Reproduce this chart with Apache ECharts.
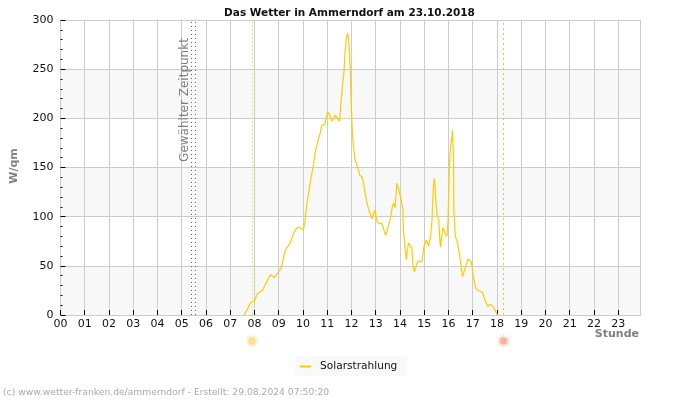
<!DOCTYPE html>
<html><head><meta charset="utf-8">
<script src="https://cdn.jsdelivr.net/npm/echarts@6/dist/echarts.min.js"></script>
<style>html,body{margin:0;padding:0;background:#fff}#c{width:700px;height:400px}</style>
</head><body><div id="c"></div>
<script>
const hourLabels=['00','01','02','03','04','05','06','07','08','09','10','11','12','13','14','15','16','17','18','19','20','21','22','23'];
const hours=[7.57,7.69,7.77,7.82,7.91,8.02,8.10,8.16,8.32,8.44,8.65,8.81,8.99,9.10,9.20,9.27,9.47,9.61,9.68,9.81,10.02,10.09,10.13,10.23,10.33,10.41,10.50,10.60,10.74,10.78,10.90,11.01,11.12,11.19,11.26,11.34,11.42,11.51,11.56,11.63,11.69,11.73,11.78,11.84,11.89,11.92,11.96,11.98,12.02,12.04,12.10,12.15,12.22,12.29,12.33,12.43,12.50,12.56,12.63,12.70,12.80,12.84,12.91,12.98,13.02,13.07,13.25,13.32,13.40,13.46,13.53,13.60,13.69,13.73,13.80,13.87,13.94,14.04,14.12,14.14,14.20,14.26,14.35,14.49,14.54,14.60,14.70,14.76,14.90,14.99,15.09,15.18,15.27,15.32,15.38,15.42,15.48,15.53,15.60,15.65,15.67,15.77,15.86,15.93,15.98,16.03,16.08,16.14,16.16,16.21,16.22,16.28,16.36,16.44,16.51,16.58,16.69,16.80,16.94,16.99,17.05,17.13,17.24,17.40,17.51,17.62,17.73,17.86,18.02];
const solar=[0,5,6,12,14,15,21,23,25,30.5,41,38,44,47.5,59,66,73,83,86.5,89.5,87,96.5,107,124,139,149.5,165,175,188,193,194,206.5,202.5,197,197,203,201,197,213.6,234,247.5,264.5,280,286.5,278,264,244,218.7,196.6,183,168,157.7,152.6,147.5,142.4,140.7,134,124,115,108.5,100.7,97.7,103.5,107,99,94,93,88,81,84.7,91.5,98,111,113.6,109,134,128,118.7,107,86.5,71,56,73.5,68,49,44,52.5,55,54,69.5,76,70,81,96.5,130.5,139,117,101.7,96.5,74.6,69,89,83.5,80,93.6,146,169.5,181,188,161,109,80,74.6,64,52.5,39,47.5,57,54,46,35.6,27,24.7,23,15,9,11,8,0];
const selectedTimes=[5.38,5.57];
const sunrise=7.9, sunset=18.27;
const sunIconY=-26.5;

const font='"DejaVu Sans"';
const rays=(()=>{let d='';const n=12;for(let i=0;i<n*2;i++){const a=i*Math.PI/n;const r=i%2?45:100;d+=(i?'L':'M')+(100+r*Math.cos(a)).toFixed(1)+' '+(100+r*Math.sin(a)).toFixed(1);}return 'path://'+d+'Z';})();
const sunSeries=(t,ray,core)=>[
 {type:'scatter',silent:true,clip:false,symbol:rays,symbolSize:16,z:5,itemStyle:{color:ray,opacity:1},data:[[t,sunIconY]]},
 {type:'scatter',silent:true,clip:false,symbol:'circle',symbolSize:7,z:6,itemStyle:{color:core,opacity:1},data:[[t,sunIconY]]}
];
const vline=(x,color,type)=>({xAxis:x,lineStyle:{color,type,width:1}});
const chart=echarts.init(document.getElementById('c'),null,{renderer:'canvas'});
chart.setOption({
 animation:false,
 backgroundColor:'#fff',
 title:{text:'Das Wetter in Ammerndorf am 23.10.2018',left:344.5,textAlign:'center',top:3,textStyle:{fontFamily:font,fontSize:10.5,fontWeight:'bold',color:'#111'}},
 grid:{left:60.5,top:20,width:580,height:295,show:false},
 legend:{data:['Solarstrahlung'],left:295,top:356,padding:[5,10,4,5],itemWidth:11,itemHeight:2,backgroundColor:'#f9f9f9',icon:'rect',
   textStyle:{fontFamily:font,fontSize:10.6,color:'#111',padding:[0,0,0,4]}},
 xAxis:{type:'value',min:0,max:23.92,interval:1,
   axisLine:{show:true,lineStyle:{color:'#ccc',width:1}},
   axisTick:{show:true,inside:true,length:5,lineStyle:{color:'#000'}},
   axisLabel:{fontFamily:font,fontSize:11,color:'#111',margin:4,showMaxLabel:false,formatter:v=>hourLabels[v]},
   splitLine:{show:true,lineStyle:{color:'#ccc',width:1}}},
 yAxis:{type:'value',min:0,max:300,interval:50,
   axisLine:{show:true,lineStyle:{color:'#ccc',width:1}},
   axisTick:{show:true,inside:true,length:5,lineStyle:{color:'#000'}},
   minorTick:{show:true,splitNumber:5,length:2,lineStyle:{color:'#000'}},
   axisLabel:{fontFamily:font,fontSize:11,color:'#111',margin:7},
   splitLine:{show:true,lineStyle:{color:'#ccc',width:1}},
   splitArea:{show:true,areaStyle:{color:['#f8f8f8','#ffffff']}}},
 series:[
  {name:'Solarstrahlung',type:'line',showSymbol:false,symbol:'none',smooth:false,z:3,
   lineStyle:{color:'#ffcc00',width:1.2},itemStyle:{color:'#ffcc00'},
   data:hours.map((h,i)=>[h,solar[i]]),
   markLine:{silent:true,symbol:'none',label:{show:false},animation:false,data:[
     vline(selectedTimes[0],'#666',[1,3]),vline(selectedTimes[1],'#666',[1,3]),
     vline(sunrise,'#ffe95a',[2,2]),vline(sunset,'#f9b56a',[2,3])]}},
  ...sunSeries(sunrise,'#fbeab8','#fbdf8c'),
  ...sunSeries(sunset,'#ffd4c8','#ffb09c')
 ],
 graphic:[
  {type:'text',left:3,top:388,style:{text:'(c) www.wetter-franken.de/ammerndorf - Erstellt: 29.08.2024 07:50:20',fontFamily:font,fontSize:9.2,fill:'#aaa'},silent:true},
  {type:'text',x:14,y:166,rotation:Math.PI/2,style:{text:'W/qm',fontFamily:font,fontSize:11,fontWeight:'bold',fill:'#808080',align:'center',verticalAlign:'middle'},silent:true},
  {type:'text',x:639,y:334,style:{text:'Stunde',fontFamily:font,fontSize:11,fontWeight:'bold',fill:'#808080',align:'right',verticalAlign:'middle'},silent:true},
  {type:'text',x:184.5,y:100,rotation:Math.PI/2,z:10,style:{text:'Gewählter Zeitpunkt',fontFamily:font,fontSize:12,fill:'#808080',align:'center',verticalAlign:'middle'},silent:true}
 ]
});
</script></body></html>
